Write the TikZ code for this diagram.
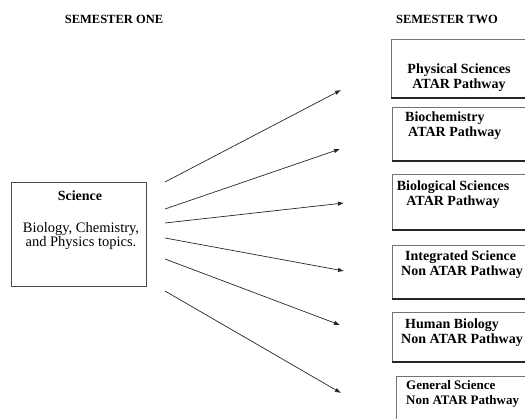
\documentclass[tikz,border=0pt]{standalone}
\usepackage{fontspec}
\setmainfont{Liberation Serif}
\usetikzlibrary{arrows.meta}
\begin{document}
\begin{tikzpicture}[x=1pt,y=-1pt,
  hdr/.style={font=\fontsize{12.5}{14}\selectfont\bfseries, inner sep=0pt},
  boxtxt/.style={font=\fontsize{14}{15}\selectfont\bfseries, inner sep=0pt},
  plain/.style={font=\fontsize{14.5}{14.5}\selectfont, inner sep=0pt},
  boxframe/.style={draw=black!55, line width=0.8pt},
  bottomline/.style={draw=black!85, line width=1.1pt},
  arr/.style={-{Latex[length=6pt,width=4.5pt]}, line width=0.7pt, draw=black!85}]
\useasboundingbox (0,0) rectangle (525,419);
\clip (0,0) rectangle (525,419);
% headers
\node[hdr] (h1) at (114,19) {SEMESTER ONE};
\node[hdr] (h2) at (447,19) {SEMESTER TWO};
% left box
\draw[boxframe, draw=black!70] (11,182) rectangle (146,286);
\node[boxtxt, font=\fontsize{14}{15}\selectfont\bfseries] (sci) at (80,196) {Science};
\node[plain, align=center] (topics) at (81,236) {Biology, Chemistry,\\and Physics topics.};
% right boxes
\draw[boxframe] (391,39) rectangle (540,98);
\draw[bottomline] (391,98) -- (540,98);
\node[boxtxt, align=center] (t1) at (459,77.5) {Physical Sciences\\ATAR Pathway};
\draw[boxframe] (392,107) rectangle (540,161);
\draw[bottomline] (392,161) -- (540,161);
\node[boxtxt, align=left, anchor=west] (t2) at (405,126) {Biochemistry\\\hspace*{3pt}ATAR Pathway};
\draw[boxframe] (392,174) rectangle (540,230);
\draw[bottomline] (392,230) -- (540,230);
\node[boxtxt, align=center] (t3) at (453,195) {Biological Sciences\\ATAR Pathway};
\draw[boxframe] (392,245) rectangle (540,299);
\draw[bottomline] (392,299) -- (540,299);
\node[boxtxt, align=left, anchor=west] (t4) at (401,265) {\hspace*{4pt}Integrated Science\\Non ATAR Pathway};
\draw[boxframe] (392,312) rectangle (540,362);
\draw[bottomline] (392,362) -- (540,362);
\node[boxtxt, align=left, anchor=west] (t5) at (401,332.5) {\hspace*{4pt}Human Biology\\Non ATAR Pathway};
\draw[boxframe] (396,376) rectangle (540,430);
\node[boxtxt, font=\fontsize{13}{14.5}\selectfont\bfseries, align=left, anchor=west] (t6) at (406,394) {General Science\\Non ATAR Pathway};
% arrow end points
\coordinate (s1) at (165,182); \coordinate (e1) at (341,90);
\coordinate (s2) at (165,209); \coordinate (e2) at (340,149);
\coordinate (s3) at (165,223); \coordinate (e3) at (344,203);
\coordinate (s4) at (165,238); \coordinate (e4) at (344,271);
\coordinate (s5) at (165,259); \coordinate (e5) at (340,325);
\coordinate (s6) at (165,291); \coordinate (e6) at (341,393);
\foreach \i in {1,...,6} \draw[arr] (s\i) -- (e\i);
\end{tikzpicture}
\end{document}
